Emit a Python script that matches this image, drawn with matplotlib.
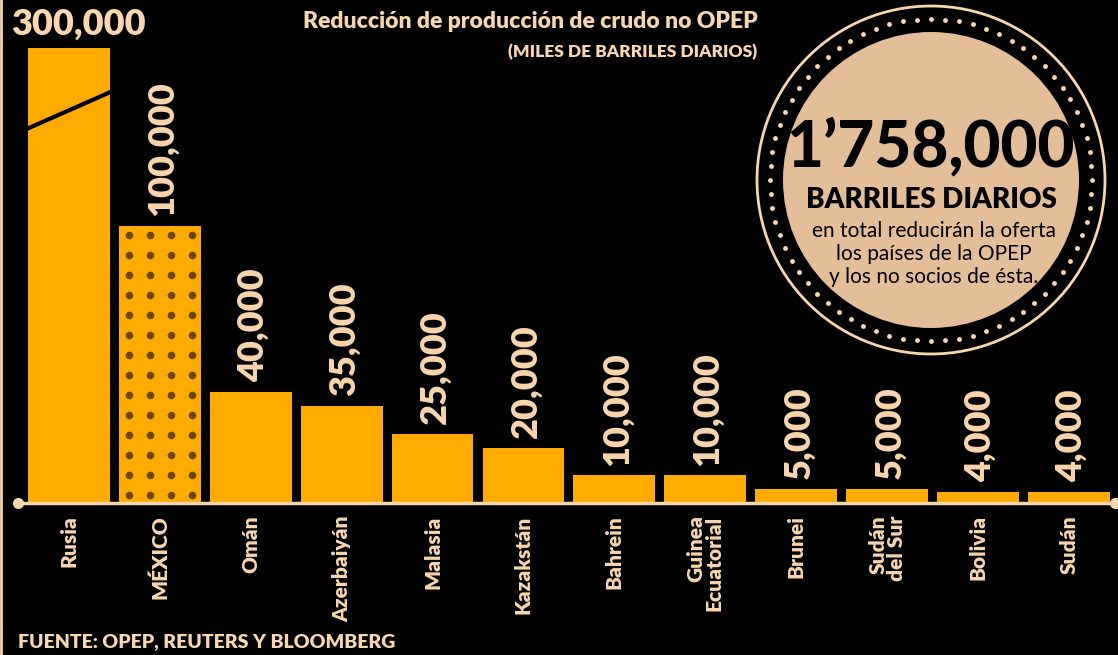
import numpy as np
import matplotlib
matplotlib.use('Agg')
import matplotlib.pyplot as plt
from matplotlib.patches import Circle

# datos (barriles diarios)
paises = ['Rusia', 'MÉXICO', 'Omán', 'Azerbaiyán', 'Malasia', 'Kazakstán',
          'Bahrein', 'Guinea\nEcuatorial', 'Brunei', 'Sudán\ndel Sur', 'Bolivia', 'Sudán']
valores = [300000, 100000, 40000, 35000, 25000, 20000, 10000, 10000, 5000, 5000, 4000, 4000]
etiquetas = ['300,000', '100,000', '40,000', '35,000', '25,000', '20,000',
             '10,000', '10,000', '5,000', '5,000', '4,000', '4,000']
total = '1’758,000'

NARANJA = '#FFAB00'
BEIGE = '#F9D6AE'
CIRCULO = '#E3BE98'
PUNTO_MX = '#6E4800'
TOPE = 164000  # barra cortada (Rusia)

plt.rcParams['font.family'] = ['Lato', 'DejaVu Sans']

W, H = 1118, 655
fig = plt.figure(figsize=(W / 100, H / 100), dpi=100, facecolor='black')

# eje principal
ax = fig.add_axes([23.5 / W, 152 / H, 1090.7 / W, 503 / H])
ax.set_facecolor('black')
ax.set_xlim(-0.5, len(paises) - 0.5)
ax.set_ylim(0, 503 / 2.775 * 1000)
ax.axis('off')

x = np.arange(len(paises))
alturas = [min(v, TOPE) for v in valores]
ax.bar(x, alturas, width=0.9, color=NARANJA, zorder=2)

# linea de corte en Rusia
ax.plot([x[0] - 0.45, x[0] + 0.45], [TOPE - 29000, TOPE - 16000], color='black', lw=3, zorder=3)

# puntos en la barra de Mexico
izq = x[1] - 0.45
for k in range(4):
    for j in range(14):
        ax.plot(izq + 0.11 + 0.231 * k, 2900 + 7200 * j, 'o', ms=5.5, color=PUNTO_MX,
                mec='none', zorder=3)

# etiquetas de valor
for i in range(1, len(x)):
    ax.annotate(etiquetas[i], (x[i] + 0.03, alturas[i]), xytext=(0, 7), textcoords='offset points',
                rotation=90, ha='center', va='bottom', fontsize=26, fontweight='heavy', color=BEIGE)

# nombres de paises
for i, p in enumerate(paises):
    ax.annotate(p, (x[i], 0), xytext=(0, -9), textcoords='offset points', rotation=90,
                ha='center', va='top', multialignment='right', fontsize=15,
                fontweight='heavy', color=BEIGE, linespacing=0.95)

# capa decorativa en pixeles
ov = fig.add_axes([0, 0, 1, 1], facecolor='none')
ov.set_xlim(0, W)
ov.set_ylim(H, 0)
ov.axis('off')

ov.text(11, 24, etiquetas[0], ha='left', va='center', fontsize=26, fontweight='heavy', color=BEIGE)

ov.plot([18, 1115], [503, 503], color=BEIGE, lw=2.5, solid_capstyle='butt')
ov.plot([18, 1115], [503, 503], 'o', color=BEIGE, ms=7)
ov.plot([1, 1], [0, H], color=BEIGE, lw=2)

ov.text(758, 22, 'Reducción de producción de crudo no OPEP', ha='right', va='center',
        fontsize=16.5, fontweight='heavy', color=BEIGE)
ov.text(757, 52, '(MILES DE BARRILES DIARIOS)', ha='right', va='center',
        fontsize=12.5, fontweight='heavy', color=BEIGE)
ov.text(18, 642, 'FUENTE: OPEP, REUTERS Y BLOOMBERG', ha='left', va='center',
        fontsize=14, fontweight='heavy', color=BEIGE)

# circulo con el total
cx, cy = 931, 180
ov.add_patch(Circle((cx, cy), 174, facecolor='black', edgecolor=BEIGE, lw=2, zorder=1))
ov.add_patch(Circle((cx, cy), 148, facecolor=CIRCULO, edgecolor='none', zorder=2))
ang = np.linspace(0, 2 * np.pi, 72, endpoint=False)
ov.plot(cx + 161 * np.cos(ang), cy + 161 * np.sin(ang), 'o', ms=3.5, color=BEIGE,
        mec='none', zorder=2)
ov.text(cx, 148, total, ha='center', va='center', fontsize=46, fontweight='black',
        color='black', zorder=3)
ov.text(cx, 200, 'BARRILES DIARIOS', ha='center', va='center', fontsize=20,
        fontweight='heavy', color='black', zorder=3)
ov.text(cx + 3, 254, 'en total reducirán la oferta\nlos países de la OPEP\ny los no socios de ésta.',
        ha='center', va='center', fontsize=15, color='black', linespacing=1.2, zorder=3)

fig.savefig('out.png', dpi=100, facecolor='black')
